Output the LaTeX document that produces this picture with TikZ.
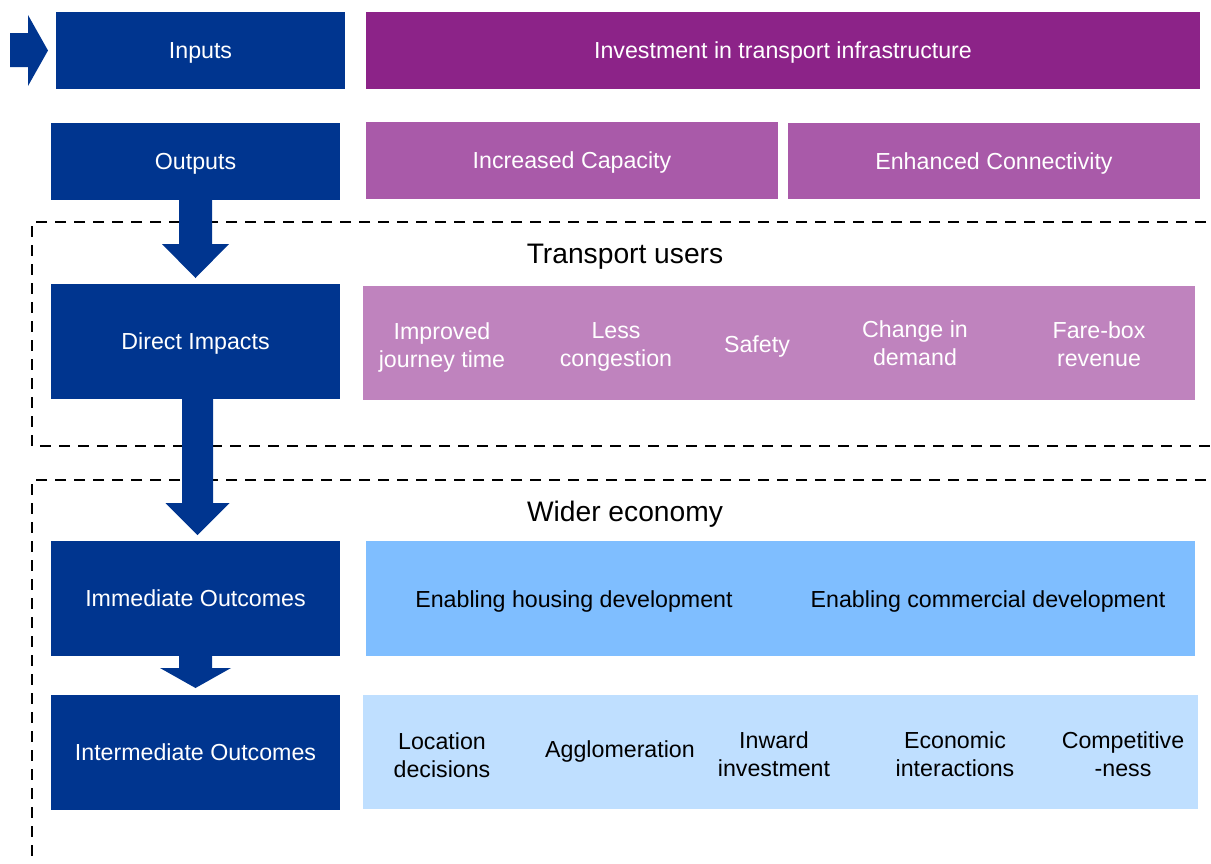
\documentclass[tikz,border=0pt]{standalone}
\usepackage{fontspec}
\setmainfont{Liberation Sans}
\usetikzlibrary{calc}
\definecolor{dblue}{HTML}{00358F}
\definecolor{purA}{HTML}{8C2388}
\definecolor{purB}{HTML}{A95AA9}
\definecolor{purC}{HTML}{BF83BE}
\definecolor{lblue}{HTML}{7FBEFF}
\definecolor{llblue}{HTML}{BFDFFF}
\tikzset{
  box/.style={inner sep=0pt, outer sep=0pt, align=center, font=\fontsize{23.2}{28}\selectfont},
  oneline/.style={text height=16.6pt, text depth=0pt},
  mainbox/.style={box, oneline, fill=dblue, text=white, minimum width=289pt},
  rowbox/.style={box, oneline, text=white},
  lbl/.style={inner sep=0pt, align=center, font=\fontsize{23.2}{28}\selectfont},
  wlbl/.style={lbl, text=white},
  blbl/.style={lbl, text=black},
  zone/.style={draw=black, line width=2.6pt, dash pattern=on 11pt off 8pt},
  arrowfill/.style={fill=dblue},
  title/.style={inner sep=0pt, text height=20.2pt, text depth=0pt, font=\fontsize{28.2}{32}\selectfont}
}
\begin{document}
\begin{tikzpicture}[x=1pt,y=-1pt]
\useasboundingbox (0,0) rectangle (1211,863);
\begin{scope}
\clip (0,0) rectangle (1211,863);
% zones
\draw[zone] (1225,222) -- (32,222) -- (32,446) -- (1225,446);
\draw[zone] (1225,480) -- (32,480) -- (32,880);
\end{scope}
\node[title] (tu) at (625,253) {Transport users};
\node[title] (we) at (625,511) {Wider economy};
% left column
\node[mainbox, minimum height=77pt] (inputs) at (200.5,50.5) {Inputs};
\node[mainbox, minimum height=77pt] (outputs) at (195.5,161.5) {Outputs};
\node[mainbox, minimum height=115pt] (direct) at (195.5,341.5) {Direct Impacts};
\node[mainbox, minimum height=115pt] (immediate) at (195.5,598.5) {Immediate Outcomes};
\node[mainbox, minimum height=115pt] (intermediate) at (195.5,752.5) {Intermediate Outcomes};
% right rows
\node[rowbox, fill=purA, minimum width=834pt, minimum height=77pt] (invest) at (783,50.5) {Investment in transport infrastructure};
\node[rowbox, fill=purB, minimum width=412pt, minimum height=77pt] (cap) at (572,160.5) {Increased Capacity};
\node[rowbox, fill=purB, minimum width=412pt, minimum height=76pt] (conn) at (994,161) {Enhanced Connectivity};
\node[box, fill=purC, minimum width=832pt, minimum height=114pt] (directrow) at (779,343) {};
\node[box, fill=lblue, minimum width=829pt, minimum height=115pt] (immrow) at (780.5,598.5) {};
\node[box, fill=llblue, minimum width=835pt, minimum height=114pt] (introw) at (780.5,752) {};
% direct impacts labels
\node[wlbl] (d1) at (442,347) {Improved\\journey time};
\node[wlbl] (d2) at (616,347) {Less\\congestion};
\node[wlbl, oneline] (d3) at (757,344) {Safety};
\node[wlbl] (d4) at (915,343) {Change in\\demand};
\node[wlbl] (d5) at (1099,344) {Fare-box\\ revenue};
% immediate labels
\node[blbl, oneline] (i1) at (574,599) {Enabling housing development};
\node[blbl, oneline] (i2) at (988,599) {Enabling commercial development};
% intermediate labels
\node[blbl] (m1) at (442,755) {Location\\decisions};
\node[blbl, oneline] (m2) at (620,749) {Agglomeration};
\node[blbl] (m3) at (774,754) {Inward\\investment};
\node[blbl] (m4) at (955,754) {Economic\\interactions};
\node[blbl] (m5) at (1123,754) {Competitive\\-ness};
% entry arrow
\coordinate (tip0) at ($(inputs.west)+(-8,0)$);
\fill[arrowfill] (tip0) -- ++(-20,-35.5) -- ++(0,18) -- ++(-18,0) -- ++(0,34) -- ++(18,0) -- ++(0,19) -- cycle;
% down arrows
\coordinate (s1) at (outputs.south);
\coordinate (t1) at ($(direct.north)+(0,-6)$);
\fill[arrowfill] ($(s1)+(-16.5,0)$) -- ($(s1)+(16.5,0)$) -- ($(t1)+(16.5,-34)$) -- ($(t1)+(33.5,-34)$) -- (t1) -- ($(t1)+(-33.5,-34)$) -- ($(t1)+(-16.5,-34)$) -- cycle;
\coordinate (s2) at ($(direct.south)+(2,0)$);
\coordinate (t2) at ($(immediate.north)+(2,-6)$);
\fill[arrowfill] ($(s2)+(-15.5,0)$) -- ($(s2)+(15.5,0)$) -- ($(t2)+(15.5,-32)$) -- ($(t2)+(32,-32)$) -- (t2) -- ($(t2)+(-32,-32)$) -- ($(t2)+(-15.5,-32)$) -- cycle;
\coordinate (s3) at (immediate.south);
\coordinate (t3) at ($(intermediate.north)+(0,-7)$);
\fill[arrowfill] ($(s3)+(-16.5,0)$) -- ($(s3)+(16.5,0)$) -- ($(t3)+(16.5,-20)$) -- ($(t3)+(35.5,-20)$) -- (t3) -- ($(t3)+(-35.5,-20)$) -- ($(t3)+(-16.5,-20)$) -- cycle;
\end{tikzpicture}
\end{document}
